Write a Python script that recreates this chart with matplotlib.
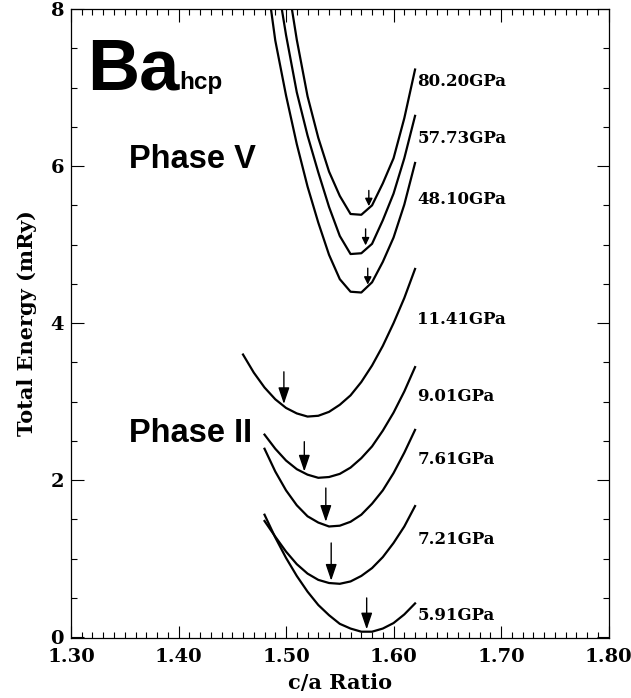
import numpy as np
import matplotlib.pyplot as plt
from matplotlib.ticker import MultipleLocator, FormatStrFormatter

plt.rcParams['font.family'] = ['DejaVu Serif']

# c/a grid and total energies (mRy)
ca_ii = [1.48, 1.49, 1.50, 1.51, 1.52, 1.53, 1.54, 1.55, 1.56, 1.57, 1.58, 1.59, 1.60, 1.61, 1.62]
ca_1141 = [1.46, 1.47] + ca_ii

e_1141 = [3.60, 3.37, 3.18, 3.03, 2.92, 2.85, 2.81, 2.82, 2.87, 2.96, 3.08, 3.25, 3.46, 3.71, 4.00, 4.32, 4.69]
e_901 = [2.58, 2.40, 2.25, 2.14, 2.07, 2.03, 2.04, 2.08, 2.16, 2.28, 2.43, 2.63, 2.86, 3.13, 3.44]
e_761 = [2.40, 2.11, 1.87, 1.68, 1.54, 1.46, 1.41, 1.42, 1.47, 1.56, 1.70, 1.87, 2.09, 2.35, 2.64]
e_721 = [1.48, 1.28, 1.09, 0.93, 0.81, 0.73, 0.69, 0.68, 0.71, 0.78, 0.88, 1.02, 1.20, 1.41, 1.67]
e_591 = [1.56, 1.27, 1.01, 0.78, 0.58, 0.41, 0.28, 0.17, 0.11, 0.07, 0.07, 0.11, 0.18, 0.29, 0.43]

ca_4810 = [1.485, 1.49, 1.50, 1.51, 1.52, 1.53, 1.54, 1.55, 1.56, 1.57, 1.58, 1.59, 1.60, 1.61, 1.62]
e_4810 = [8.10, 7.60, 6.90, 6.28, 5.74, 5.28, 4.87, 4.56, 4.40, 4.39, 4.52, 4.78, 5.09, 5.51, 6.04]
ca_5773 = [1.495, 1.50, 1.51, 1.52, 1.53, 1.54, 1.55, 1.56, 1.57, 1.58, 1.59, 1.60, 1.61, 1.62]
e_5773 = [8.09, 7.67, 6.94, 6.39, 5.92, 5.48, 5.11, 4.88, 4.89, 5.01, 5.31, 5.65, 6.10, 6.64]
ca_8020 = [1.505, 1.51, 1.52, 1.53, 1.54, 1.55, 1.56, 1.57, 1.58, 1.59, 1.60, 1.61, 1.62]
e_8020 = [8.04, 7.61, 6.89, 6.36, 5.93, 5.62, 5.39, 5.38, 5.50, 5.78, 6.10, 6.61, 7.23]

# pressure labels and their heights
labels = ['80.20GPa', '57.73GPa', '48.10GPa', '11.41GPa', '9.01GPa', '7.61GPa', '7.21GPa', '5.91GPa']
label_y = [7.08, 6.35, 5.57, 4.04, 3.07, 2.26, 1.25, 0.28]

# arrows: x position, tail and tip energy
arr_v_x = [1.577, 1.574, 1.576]
arr_v_top = [5.69, 5.20, 4.70]
arr_v_tip = [5.49, 4.99, 4.49]
arr_ii_x = [1.498, 1.517, 1.537, 1.542, 1.575]
arr_ii_top = [3.38, 2.49, 1.90, 1.20, 0.50]
arr_ii_tip = [2.97, 2.11, 1.47, 0.72, 0.10]

fig = plt.figure(figsize=(6.31, 6.98), dpi=100)
ax = fig.add_axes([0.1125, 0.086, 0.852, 0.901])

curves = [(ca_8020, e_8020), (ca_5773, e_5773), (ca_4810, e_4810),
          (ca_1141, e_1141), (ca_ii, e_901), (ca_ii, e_761), (ca_ii, e_721), (ca_ii, e_591)]
for xs, ys in curves:
    ax.plot(xs, ys, color='k', lw=1.6, solid_joinstyle='round')

for lab, y in zip(labels, label_y):
    ax.text(1.622, y, lab, fontsize=12, fontweight='bold', ha='left', va='center')

# small arrows for phase V
for x, y0, y1 in zip(arr_v_x, arr_v_top, arr_v_tip):
    ax.annotate('', xy=(x, y1), xytext=(x, y0),
                arrowprops=dict(arrowstyle='-|>,head_length=0.45,head_width=0.22',
                                color='k', lw=1.0, mutation_scale=10,
                                shrinkA=0, shrinkB=0))
# larger arrows for phase II
for x, y0, y1 in zip(arr_ii_x, arr_ii_top, arr_ii_tip):
    ax.annotate('', xy=(x, y1), xytext=(x, y0),
                arrowprops=dict(arrowstyle='-|>,head_length=0.5,head_width=0.17',
                                color='k', lw=1.0, mutation_scale=20,
                                shrinkA=0, shrinkB=0))

ax.text(1.315, 6.98, 'Ba', fontsize=52, fontweight='bold', family='Liberation Sans', va='baseline')
ax.text(1.4005, 6.98, 'hcp', fontsize=17.5, fontweight='bold', family='Liberation Sans', va='baseline')
ax.text(1.3535, 5.98, 'Phase V', fontsize=23.5, fontweight='bold', family='Liberation Sans', va='baseline')
ax.text(1.3537, 2.48, 'Phase II', fontsize=23.5, fontweight='bold', family='Liberation Sans', va='baseline')

ax.set_xlim(1.30, 1.80)
ax.set_ylim(-0.01, 8.0)
ax.xaxis.set_major_locator(MultipleLocator(0.1))
ax.xaxis.set_minor_locator(MultipleLocator(0.01))
ax.xaxis.set_major_formatter(FormatStrFormatter('%.2f'))
ax.yaxis.set_major_locator(MultipleLocator(2))
ax.yaxis.set_minor_locator(MultipleLocator(0.5))
ax.tick_params(which='both', direction='in', top=True, right=True, width=0.8, labelsize=14)
ax.tick_params(which='major', length=9)
ax.tick_params(which='minor', length=4.5)
ax.tick_params(axis='x', pad=7)
ax.tick_params(axis='y', pad=5)
for t in ax.get_xticklabels() + ax.get_yticklabels():
    t.set_fontweight('bold')
for s in ax.spines.values():
    s.set_linewidth(0.9)

ax.set_xlabel('c/a Ratio', fontsize=15, fontweight='bold', labelpad=5)
ax.set_ylabel('Total Energy (mRy)', fontsize=15, fontweight='bold', labelpad=10)

fig.savefig('out.png', dpi=100)
